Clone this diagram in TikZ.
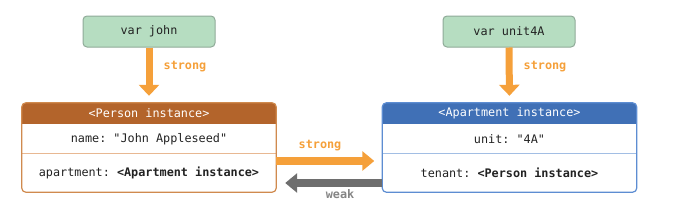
\documentclass[tikz,border=0pt]{standalone}
\usepackage{fontspec}
\setmonofont{DejaVu Sans Mono}
\usetikzlibrary{arrows.meta}
\definecolor{varfill}{HTML}{B6DDC1}
\definecolor{varline}{HTML}{8FAA98}
\definecolor{strongc}{HTML}{F5A03A}
\definecolor{weakc}{HTML}{6E6E6E}
\definecolor{weaktext}{HTML}{858585}
\definecolor{personhead}{HTML}{B3642B}
\definecolor{personline}{HTML}{D08A4E}
\definecolor{persondiv}{HTML}{E8B892}
\definecolor{aparthead}{HTML}{4070B6}
\definecolor{apartline}{HTML}{5D8DD2}
\definecolor{apartdiv}{HTML}{A2BEE4}
\definecolor{textc}{HTML}{222222}
\tikzset{
  varbox/.style={draw=varline, fill=varfill, line width=1pt, rounded corners=4pt,
    minimum width=132pt, minimum height=31pt, inner sep=0pt, text=textc},
  objbox/.style={minimum width=254pt, minimum height=89pt, inner sep=0pt, rounded corners=4pt},
  rowtext/.style={text=textc, inner sep=0pt},
  headtext/.style={text=white, inner sep=0pt},
  strongarrow/.style={draw=strongc, line width=7pt, -{Triangle[width=20pt,length=11pt]}},
  stronghz/.style={draw=strongc, line width=8pt, -{Triangle[width=19pt,length=12pt]}},
  weakarrow/.style={draw=weakc, line width=8pt, -{Triangle[width=19pt,length=12pt]}},
  stronglabel/.style={text=strongc, font=\ttfamily\bfseries\fontsize{11.8}{13}\selectfont, inner sep=0pt},
  weaklabel/.style={text=weaktext, font=\ttfamily\bfseries\fontsize{11.8}{13}\selectfont, inner sep=0pt},
}
\begin{document}
\begin{tikzpicture}[x=1pt,y=-1pt, font=\ttfamily\fontsize{11.8}{13}\selectfont]
\useasboundingbox (0,0) rectangle (683,201);
% variable boxes
\node[varbox] (john) at (149,31.5) {var john};
\node[varbox] (unit) at (509,31.5) {var unit4A};
% object boxes
\node[objbox] (person) at (149,147.5) {};
\node[objbox] (apart) at (509.5,147.5) {};
\begin{scope}
  \clip[rounded corners=4pt] (person.north west) rectangle (person.south east);
  \fill[personhead] (person.north west) rectangle ([yshift=-21pt]person.north east);
  \draw[persondiv, line width=1pt] ([yshift=-51pt]person.north west) -- ([yshift=-51pt]person.north east);
\end{scope}
\draw[personline, line width=1.2pt, rounded corners=4pt] (person.north west) rectangle (person.south east);
\begin{scope}
  \clip[rounded corners=4pt] (apart.north west) rectangle (apart.south east);
  \fill[aparthead] (apart.north west) rectangle ([yshift=-21pt]apart.north east);
  \draw[apartdiv, line width=1pt] ([yshift=-51pt]apart.north west) -- ([yshift=-51pt]apart.north east);
\end{scope}
\draw[apartline, line width=1.2pt, rounded corners=4pt] (apart.north west) rectangle (apart.south east);
% texts
\node[headtext] (phead) at (149,113.5) {<Person instance>};
\node[rowtext] (pname) at (149,139) {name: "John Appleseed"};
\node[rowtext] (papt) at (149,173) {apartment: \textbf{<Apartment instance>}};
\node[headtext] (ahead) at (509.5,113.5) {<Apartment instance>};
\node[rowtext] (aunit) at (509.5,139) {unit: "4A"};
\node[rowtext] (aten) at (509.5,173) {tenant: \textbf{<Person instance>}};
% connectors
\draw[strongarrow, shorten >=7pt] (john.south) -- (person.north);
\draw[strongarrow, shorten >=7pt] (unit.south) -- (apart.north);
\node[stronglabel] (l1) at (185,67) {strong};
\node[stronglabel] (l2) at (545,67) {strong};
\draw[stronghz, shorten >=8pt] ([yshift=-13.5pt]person.east) -- ([yshift=-13.5pt]apart.west);
\draw[weakarrow, shorten >=9pt] ([yshift=-35.5pt]apart.west) -- ([yshift=-35.5pt]person.east);
\node[stronglabel] (l3) at (320,146) {strong};
\node[weaklabel] (l4) at (340,194) {weak};
\end{tikzpicture}
\end{document}
